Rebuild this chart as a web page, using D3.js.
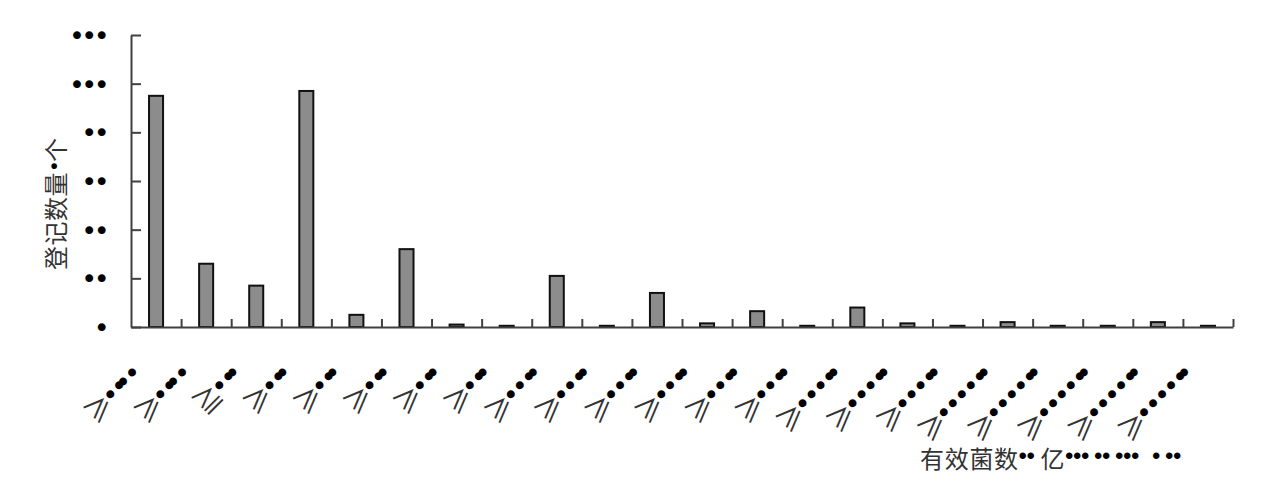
<!DOCTYPE html>
<html>
<head>
<meta charset="utf-8">
<script src="https://cdn.jsdelivr.net/npm/d3@7"></script>
<style>
  body { margin: 0; background: #fff; }
</style>
</head>
<body>
<div id="chart"></div>
<script>

// data (digits in the source came out as dots)
var categories = ["≥ • •• •", "≥ • •• •", "≧ • ••", "≥ • ••", "≥ • ••", "≥ • ••", "≥ • ••", "≥ • ••",
	"≥ • • ••", "≥ • • ••", "≥ • • ••", "≥ • • ••", "≥ • • ••", "≥ • • ••",
	"≥ • • • ••", "≥ • • • ••", "≥ • • • ••",
	"≥ • • • • ••", "≥ • • • • ••", "≥ • • • • ••", "≥ • • • • ••", "≥ • • • • ••"];
var counts = [95, 26, 17, 97, 5, 32, 1, 0.5, 21, 0.5, 14, 1.5, 6.5, 0.5, 8, 1.5, 0.5, 2, 0.5, 0.5, 2, 0.5];
var yTicks = [0, 20, 40, 60, 80, 100, 120];
var yTickLabels = ["•", "••", "••", "••", "••", "•••", "•••"];
var yTitle = "登记数量•个";
var xTitle = "有效菌数••亿••• •• •••  • ••";

// set the specs
var width = 1268;
var height = 488;
var marginLeft = 131;
var plotRight = 1233;
var plotTop = 35;
var plotBottom = 327;
var axisColor = "#404040";
var cjkFont = "'Noto Sans CJK SC', sans-serif";
var dotFont = "'DejaVu Sans', sans-serif";

var svg = d3.select("#chart")
	.append("svg")
	.attr("width", width)
	.attr("height", height);

// scales
var xScale = d3.scaleBand()
	.domain(d3.range(categories.length))
	.range([marginLeft, plotRight])
	.paddingInner(0.72)
	.paddingOuter(0.36);

var xEdge = d3.scaleLinear()
	.domain([0, categories.length])
	.range([marginLeft, plotRight]);

var yScale = d3.scaleLinear()
	.domain([0, 120])
	.range([plotBottom, plotTop]);

function measure(ch, family, size) {
	var t = svg.append("text").attr("font-family", family).attr("font-size", size).text(ch);
	var w = t.node().getComputedTextLength();
	t.remove();
	return w;
}

// split a string into runs (a glyph, or dots set close together) with offsets along a line
function layout(str, o) {
	var runs = [], pos = 0, prev = null, spaces = 0;
	for (var ch of str) {
		if (ch === " ") { spaces++; continue; }
		var dot = ch === "•", prevDot = prev === "•";
		if (prev !== null) {
			if (dot && prevDot && !spaces) {
				runs[runs.length - 1].n++;
				pos += o.tight;
				prev = ch;
				continue;
			}
			if (dot && prevDot) pos += o.gap + (spaces - 1) * o.extra;
			else if (dot) pos += o.toDot;
			else if (prevDot) pos += o.fromDot;
			else pos += o.cjk;
		}
		runs.push({ ch: ch, n: 1, pos: pos });
		prev = ch;
		spaces = 0;
	}
	runs.end = pos;
	return runs;
}

// one text per string, each run a tspan placed on its own
function drawGlyphs(g, runs, o, shift) {
	shift = shift || 0;
	var df = o.dotFont || dotFont;
	var dotW = measure("•", df, o.dotSize);
	g.append("text")
		.attr("dominant-baseline", "central")
		.selectAll("tspan")
		.data(runs)
		.enter()
		.append("tspan")
		.each(function(d) {
			var isDot = d.ch === "•";
			var w = isDot ? dotW : measure(d.ch, cjkFont, o.size);
			d3.select(this)
				.attr("x", d.pos + shift - w / 2)
				.attr("y", isDot ? o.dotDy : 0)
				.attr("font-family", isDot ? df : cjkFont)
				.attr("font-size", isDot ? o.dotSize : o.size)
				.attr("fill", isDot ? "#000" : "#333")
				.attr("letter-spacing", isDot && d.n > 1 ? (o.tight - dotW) : null)
				.text(isDot ? "•".repeat(d.n) : d.ch);
		});
}

// bars
svg.selectAll("rect.bar")
	.data(counts)
	.enter()
	.append("rect")
	.attr("class", "bar")
	.attr("x", function(d, i) { return xScale(i); })
	.attr("y", function(d) { return yScale(d); })
	.attr("width", xScale.bandwidth())
	.attr("height", function(d) { return plotBottom - yScale(d); })
	.attr("fill", "#8c8c8c")
	.attr("stroke", "#111")
	.attr("stroke-width", 2);

// yAxis, ticks pointing inward
var yAxis = svg.append("g")
	.attr("transform", "translate(" + marginLeft + ",0)")
	.call(d3.axisLeft(yScale).tickValues(yTicks).tickSize(-10).tickSizeOuter(0).tickFormat(""));

// xAxis, ticks on the category edges
var xAxis = svg.append("g")
	.attr("transform", "translate(0," + plotBottom + ")")
	.call(d3.axisBottom(xEdge).tickValues(d3.range(1, categories.length + 1)).tickSize(-8).tickSizeOuter(0).tickFormat(""));

[yAxis, xAxis].forEach(function(a) {
	a.selectAll("path, line").attr("stroke", axisColor).attr("stroke-width", 2);
});

// y tick labels, right aligned
var tickOpts = { tight: 12.4, gap: 12.4, extra: 0, toDot: 0, fromDot: 0, cjk: 0, size: 19, dotSize: 27, dotDy: 0 };
yTicks.forEach(function(t, i) {
	var runs = layout(yTickLabels[i], tickOpts);
	var g = svg.append("g").attr("transform", "translate(101.7," + yScale(t) + ")");
	drawGlyphs(g, runs, tickOpts, -runs.end);
});

// category labels, turned 45 degrees
var catOpts = { tight: 5.5, gap: 12.7, extra: 0, toDot: 18, fromDot: 18, cjk: 0, size: 28, dotSize: 27, dotDy: 0 };
categories.forEach(function(c, i) {
	var runs = layout(c, catOpts);
	var cx = xScale(i) + xScale.bandwidth() / 2;
	var g = svg.append("g").attr("transform", "translate(" + (cx - 24) + ",372.5) rotate(-45)");
	drawGlyphs(g, runs, catOpts, -runs.end);
});

// y title, reads bottom to top
var yOpts = { tight: 6, gap: 12, extra: 0, toDot: 18.5, fromDot: 16, cjk: 24.5, size: 24, dotSize: 20, dotDy: 0 };
var yt = svg.append("g").attr("transform", "translate(53.5,258) rotate(-90)");
drawGlyphs(yt, layout(yTitle, yOpts), yOpts);

// x title, bottom right
var xOpts = { tight: 8, gap: 13, extra: 8, toDot: 16.5, fromDot: 22, cjk: 24.7, size: 24, dotSize: 24, dotDy: -2,
	dotFont: "'Liberation Sans', sans-serif" };
var xt = svg.append("g").attr("transform", "translate(932,457)");
drawGlyphs(xt, layout(xTitle, xOpts), xOpts);

</script>
</body>
</html>
